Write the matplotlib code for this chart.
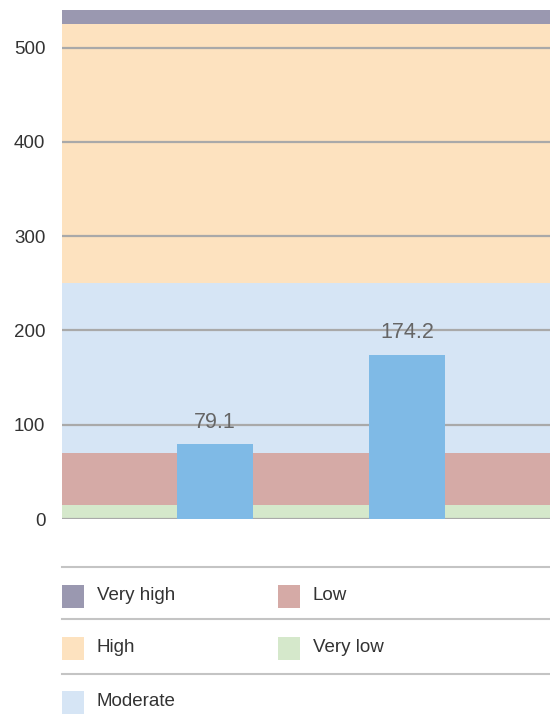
import matplotlib.pyplot as plt
from matplotlib.patches import Rectangle

plt.rcParams['font.family'] = ['Liberation Sans', 'DejaVu Sans']

# bar data
positions = [1, 2]
values = [79.1, 174.2]

# background bands (lower, upper, label, colour)
band_names = ['Very low', 'Low', 'Moderate', 'High', 'Very high']
band_lower = [0, 15, 70, 250, 525]
band_upper = [15, 70, 250, 525, 540]
band_colors = ['#d5e8cb', '#d5aaa6', '#d6e5f5', '#fde2bf', '#9a98b0']

yticks = [0, 100, 200, 300, 400, 500]

W, H = 550, 717
fig = plt.figure(figsize=(W / 100, H / 100), dpi=100)

# main plot area in pixel terms
left, right, top, bottom = 62, 550, 10, 519
ax = fig.add_axes([left / W, (H - bottom) / H, (right - left) / W, (bottom - top) / H])
ax.set_xlim(0.203, 2.745)
ax.set_ylim(0, 540)

for lo, hi, c in zip(band_lower, band_upper, band_colors):
    ax.axhspan(lo, hi, color=c, lw=0, zorder=0)

for t in yticks:
    ax.axhline(t, color='#a9a9a9', lw=1.6, zorder=1)

ax.bar(positions, values, width=0.396, color='#7fbae6', zorder=2)
for x, v in zip(positions, values):
    ax.text(x, v + 12, f'{v:.1f}', ha='center', va='bottom', fontsize=15.5,
            color='#666666', zorder=3)

ax.set_yticks(yticks)
ax.set_yticklabels([str(t) for t in yticks], fontsize=13.5, color='#333333')
ax.tick_params(axis='y', length=0, pad=12)
ax.set_xticks([])
for s in ax.spines.values():
    s.set_visible(False)

# legend block underneath, laid out in pixels
lax = fig.add_axes([0, 0, 1, 1])
lax.set_xlim(0, W)
lax.set_ylim(H, 0)
lax.axis('off')

for y in [567, 619, 674]:
    lax.plot([62, 550], [y, y], color='#c4c4c4', lw=1.5)

legend_order = ['Very high', 'High', 'Moderate', 'Low', 'Very low']
row_y = [596, 648, 702]
col_x = [62, 278]
for i, name in enumerate(legend_order):
    cx = col_x[i // 3]
    cy = row_y[i % 3]
    color = band_colors[band_names.index(name)]
    lax.add_patch(Rectangle((cx, cy - 11.5), 22, 23, color=color, lw=0))
    lax.text(cx + 35, cy, name, va='center', ha='left', fontsize=13.5,
             color='#333333')

fig.savefig('out.png', dpi=100)
